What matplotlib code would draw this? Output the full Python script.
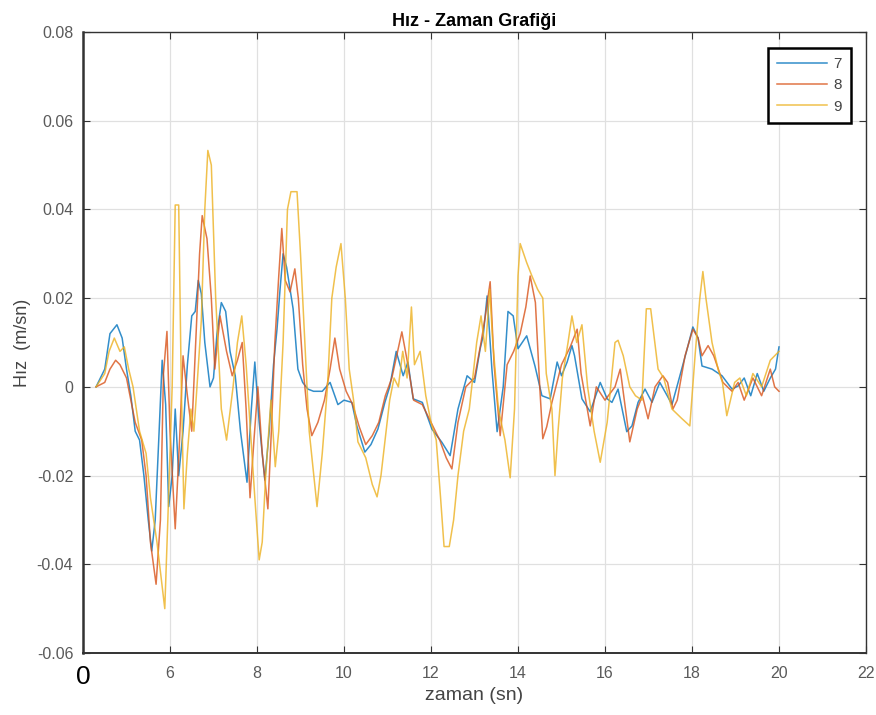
import matplotlib
matplotlib.use("Agg")
import matplotlib.pyplot as plt
import numpy as np

plt.rcParams['font.family'] = ['Liberation Sans', 'DejaVu Sans']

# (time [s], speed [m/s]) samples for each run
speed_7 = [(4.30, 0), (4.50, 0.004), (4.62, 0.012), (4.78, 0.014), (4.90, 0.011), (5.00, 0.004),
           (5.10, -0.002), (5.20, -0.010), (5.30, -0.012), (5.40, -0.020), (5.50, -0.030),
           (5.58, -0.037), (5.66, -0.030), (5.75, -0.010), (5.82, 0.006), (5.90, -0.004),
           (5.97, -0.027), (6.05, -0.020), (6.12, -0.005), (6.20, -0.020), (6.30, -0.010),
           (6.40, 0.005), (6.50, 0.016), (6.58, 0.017), (6.65, 0.024), (6.72, 0.021), (6.80, 0.010),
           (6.92, 0.000), (7.00, 0.002), (7.08, 0.012), (7.18, 0.019), (7.28, 0.017), (7.38, 0.008),
           (7.50, 0.0025), (7.62, -0.010), (7.77, -0.0215), (7.87, -0.005), (7.95, 0.0056),
           (8.05, -0.008), (8.18, -0.021), (8.28, -0.010), (8.38, 0.005), (8.46, 0.013),
           (8.53, 0.022), (8.60, 0.030), (8.68, 0.027), (8.76, 0.022), (8.83, 0.0176), (8.94, 0.004),
           (9.05, 0.001), (9.17, -0.0005), (9.30, -0.001), (9.50, -0.001), (9.68, 0.001),
           (9.86, -0.004), (10.00, -0.003), (10.18, -0.0035), (10.30, -0.009), (10.48, -0.0147),
           (10.62, -0.013), (10.78, -0.0095), (10.94, -0.0035), (11.05, 0.000), (11.20, 0.008),
           (11.36, 0.0025), (11.47, 0.0056), (11.59, -0.0027), (11.80, -0.0035), (12.02, -0.0095),
           (12.25, -0.0125), (12.44, -0.0155), (12.62, -0.005), (12.83, 0.0025), (13.00, 0.001),
           (13.13, 0.0086), (13.20, 0.0115), (13.29, 0.0205), (13.40, 0.004), (13.52, -0.0101),
           (13.66, 0.000), (13.77, 0.017), (13.89, 0.016), (14.00, 0.0086), (14.20, 0.0115),
           (14.39, 0.0047), (14.55, -0.002), (14.74, -0.0027), (14.90, 0.0056), (15.00, 0.0025),
           (15.13, 0.0056), (15.24, 0.0093), (15.30, 0.007), (15.47, -0.0027), (15.66, -0.0056),
           (15.89, 0.001), (16.05, -0.0027), (16.16, -0.0035), (16.30, -0.0005), (16.50, -0.0101),
           (16.62, -0.0088), (16.76, -0.0035), (16.92, -0.0005), (17.08, -0.0035), (17.26, 0.001),
           (17.43, -0.002), (17.54, -0.004), (17.68, 0.001), (17.89, 0.0086), (18.02, 0.0135),
           (18.14, 0.011), (18.23, 0.0047), (18.46, 0.004), (18.69, 0.0025), (18.92, -0.0005),
           (19.06, 0.0002), (19.20, 0.002), (19.35, -0.002), (19.50, 0.003), (19.65, -0.001),
           (19.80, 0.002), (19.92, 0.004), (20.00, 0.009)]

speed_8 = [(4.30, 0), (4.50, 0.001), (4.62, 0.004), (4.75, 0.006), (4.85, 0.005), (5.00, 0.002),
           (5.10, -0.003), (5.20, -0.008), (5.35, -0.012), (5.45, -0.020), (5.55, -0.035),
           (5.68, -0.0445), (5.78, -0.030), (5.85, 0.003), (5.93, 0.0125), (6.00, -0.010),
           (6.12, -0.032), (6.22, -0.012), (6.30, 0.007), (6.40, -0.002), (6.50, -0.010),
           (6.60, 0.012), (6.68, 0.030), (6.74, 0.0386), (6.85, 0.0334), (6.95, 0.020), (7.03, 0.004),
           (7.15, 0.016), (7.30, 0.008), (7.43, 0.0025), (7.55, 0.006), (7.66, 0.010), (7.75, -0.005),
           (7.84, -0.025), (7.93, -0.012), (8.02, 0.000), (8.12, -0.015), (8.25, -0.0275),
           (8.33, -0.010), (8.41, 0.010), (8.50, 0.025), (8.57, 0.0357), (8.65, 0.024),
           (8.76, 0.0214), (8.87, 0.0266), (8.95, 0.020), (9.05, 0.005), (9.15, -0.005),
           (9.26, -0.011), (9.40, -0.008), (9.55, -0.003), (9.68, 0.004), (9.79, 0.011),
           (9.90, 0.004), (10.05, -0.001), (10.20, -0.004), (10.35, -0.009), (10.50, -0.013),
           (10.65, -0.011), (10.80, -0.008), (10.95, -0.002), (11.10, 0.002), (11.33, 0.0124),
           (11.45, 0.006), (11.60, -0.003), (11.80, -0.004), (12.00, -0.008), (12.20, -0.012),
           (12.35, -0.016), (12.48, -0.0185), (12.62, -0.008), (12.80, 0.000), (13.00, 0.002),
           (13.15, 0.010), (13.25, 0.016), (13.36, 0.0237), (13.45, 0.005), (13.59, -0.011),
           (13.75, 0.005), (13.90, 0.008), (14.05, 0.012), (14.18, 0.018), (14.28, 0.025),
           (14.40, 0.019), (14.50, 0.000), (14.57, -0.0117), (14.66, -0.009), (14.78, -0.0035),
           (15.00, 0.005), (15.20, 0.009), (15.36, 0.013), (15.45, 0.003), (15.66, -0.0088),
           (15.80, 0.000), (16.00, -0.003), (16.23, 0.000), (16.35, 0.004), (16.57, -0.0124),
           (16.74, -0.005), (16.86, -0.002), (16.99, -0.0072), (17.15, 0.000), (17.33, 0.0025),
           (17.44, 0.001), (17.56, -0.005), (17.66, -0.003), (17.84, 0.007), (18.02, 0.013),
           (18.14, 0.011), (18.23, 0.007), (18.37, 0.0093), (18.50, 0.007), (18.71, 0.001),
           (18.92, -0.001), (19.06, 0.001), (19.20, -0.003), (19.40, 0.002), (19.60, -0.002),
           (19.80, 0.004), (19.90, 0.000), (20.00, -0.001)]

speed_9 = [(4.30, 0), (4.50, 0.003), (4.60, 0.008), (4.72, 0.011), (4.85, 0.008), (4.95, 0.009),
           (5.05, 0.004), (5.15, 0.000), (5.30, -0.010), (5.45, -0.015), (5.55, -0.025),
           (5.70, -0.035), (5.88, -0.050), (5.95, -0.030), (6.05, 0.000), (6.12, 0.041),
           (6.20, 0.041), (6.26, 0.000), (6.32, -0.0275), (6.40, -0.015), (6.48, -0.005),
           (6.55, -0.010), (6.62, 0.000), (6.72, 0.015), (6.80, 0.040), (6.87, 0.0533),
           (6.95, 0.050), (7.05, 0.020), (7.18, -0.005), (7.30, -0.012), (7.45, 0.000),
           (7.55, 0.010), (7.65, 0.016), (7.75, 0.005), (7.85, -0.010), (7.95, -0.025),
           (8.05, -0.039), (8.12, -0.035), (8.20, -0.020), (8.32, -0.003), (8.42, -0.018),
           (8.50, -0.010), (8.60, 0.010), (8.70, 0.040), (8.78, 0.044), (8.92, 0.044), (9.00, 0.030),
           (9.10, 0.010), (9.20, -0.010), (9.38, -0.027), (9.50, -0.015), (9.62, 0.000),
           (9.72, 0.020), (9.82, 0.027), (9.93, 0.0323), (10.03, 0.020), (10.12, 0.004),
           (10.22, -0.003), (10.32, -0.0124), (10.50, -0.016), (10.65, -0.022), (10.76, -0.0248),
           (10.85, -0.020), (10.94, -0.0124), (11.05, -0.003), (11.15, 0.002), (11.25, 0.000),
           (11.35, 0.008), (11.45, 0.002), (11.55, 0.018), (11.62, 0.005), (11.75, 0.008),
           (11.88, -0.002), (12.00, -0.008), (12.12, -0.012), (12.22, -0.025), (12.30, -0.036),
           (12.42, -0.036), (12.52, -0.030), (12.62, -0.020), (12.75, -0.010), (12.88, -0.005),
           (13.05, 0.010), (13.15, 0.016), (13.25, 0.008), (13.35, 0.022), (13.42, 0.010),
           (13.55, -0.005), (13.70, -0.012), (13.82, -0.0205), (13.92, -0.005), (14.00, 0.025),
           (14.05, 0.0323), (14.20, 0.028), (14.32, 0.025), (14.45, 0.022), (14.57, 0.020),
           (14.65, 0.003), (14.78, -0.005), (14.85, -0.020), (14.92, -0.010), (15.02, 0.002),
           (15.15, 0.010), (15.24, 0.016), (15.35, 0.010), (15.47, 0.014), (15.60, 0.000),
           (15.75, -0.010), (15.89, -0.017), (16.05, -0.008), (16.23, 0.010), (16.30, 0.0105),
           (16.42, 0.007), (16.57, 0.000), (16.70, -0.002), (16.85, -0.003), (16.95, 0.0176),
           (17.05, 0.0176), (17.12, 0.012), (17.22, 0.004), (17.35, 0.002), (17.54, -0.005),
           (17.75, -0.007), (17.95, -0.0088), (18.07, 0.007), (18.18, 0.020), (18.25, 0.026),
           (18.32, 0.020), (18.46, 0.010), (18.60, 0.004), (18.70, 0.001), (18.80, -0.0065),
           (18.98, 0.001), (19.10, 0.002), (19.25, -0.002), (19.40, 0.003), (19.60, 0.000),
           (19.80, 0.006), (20.00, 0.008)]

series_labels = ['7', '8', '9']
series_colors = ['#0072BD', '#D95319', '#EDB120']

x_ticks = [4, 6, 8, 10, 12, 14, 16, 18, 20, 22]
x_tick_labels = ['0', '6', '8', '10', '12', '14', '16', '18', '20', '22']
y_ticks = [-0.06, -0.04, -0.02, 0, 0.02, 0.04, 0.06, 0.08]
y_tick_labels = ['-0.06', '-0.04', '-0.02', '0', '0.02', '0.04', '0.06', '0.08']

W, H = 876, 715
ax_l, ax_r, ax_t, ax_b = 83, 866, 32, 653
aw, ah = ax_r - ax_l, ax_b - ax_t

fig = plt.figure(figsize=(W / 100, H / 100), dpi=100)
ax = fig.add_axes([ax_l / W, 1 - ax_b / H, aw / W, ah / H])

for data, lab, col in zip([speed_7, speed_8, speed_9], series_labels, series_colors):
    arr = np.array(data)
    ax.plot(arr[:, 0], arr[:, 1], color=col, lw=1.1, alpha=0.8, label=lab)

ax.set_xlim(4, 22)
ax.set_ylim(-0.06, 0.08)
ax.set_xticks(x_ticks)
ax.set_xticklabels(x_tick_labels)
ax.set_yticks(y_ticks)
ax.set_yticklabels(y_tick_labels)
ax.tick_params(direction='in', top=True, right=True, length=5, width=0.8,
               labelsize=11.5, labelcolor='#5a5a5a', color='#333333')
ax.tick_params(axis='x', pad=9)
ax.tick_params(axis='y', pad=7)
first = ax.get_xticklabels()[0]
first.set_fontsize(19)
first.set_color('black')

ax.grid(True, color='#e0e0e0', lw=0.9)
ax.set_axisbelow(True)
for s in ax.spines.values():
    s.set_color('#333333')
    s.set_linewidth(1.0)
ax.spines['left'].set_linewidth(1.8)
ax.spines['bottom'].set_linewidth(1.4)

ax.set_title('Hız - Zaman Grafiği', fontsize=13, fontweight='bold', pad=4)
ax.set_xlabel('zaman (sn)', fontsize=14, color='#444444')
ax.xaxis.set_label_coords(0.5, (ax_b - 687) / ah)
ax.set_ylabel('Hız  (m/sn)', fontsize=13, color='#444444')
ax.yaxis.set_label_coords((31 - ax_l) / aw, 0.5)

leg = ax.legend(loc='upper right',
                bbox_to_anchor=((851 - ax_l) / aw, 1 - (48 - ax_t) / ah),
                borderaxespad=0, fancybox=False, framealpha=1, edgecolor='black', fontsize=11,
                handlelength=3.3, handletextpad=0.4, borderpad=0.6, labelspacing=0.47)
leg.get_frame().set_linewidth(1.8)
for t in leg.get_texts():
    t.set_color('#444444')

fig.savefig('out.png', dpi=100)
